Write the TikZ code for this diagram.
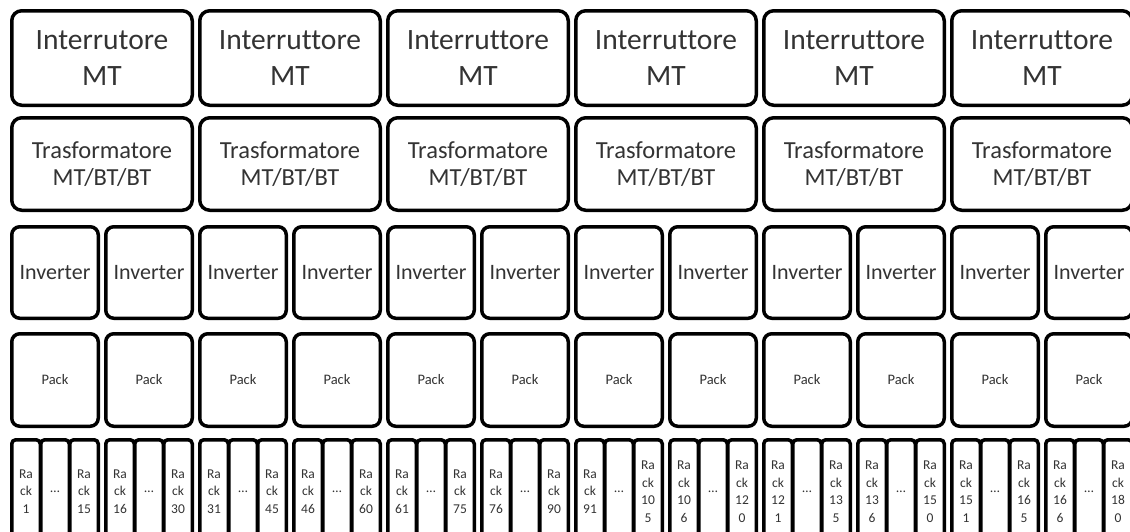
\documentclass[tikz,border=0pt]{standalone}
\usepackage{fontspec}
\setmainfont{Carlito}[Ligatures=NoCommon]
\tikzset{
 unit/.style={draw=black, line width=3.5pt, fill=white, text=black!80, align=center, inner sep=0pt, outer sep=0pt, anchor=north west},
 mtbox/.style={unit, rounded corners=10pt, minimum width=180.5pt, minimum height=94.5pt, font=\fontsize{29.5}{36}\selectfont},
 trafobox/.style={unit, rounded corners=10pt, minimum width=180.5pt, minimum height=92.5pt, font=\fontsize{24.5}{27}\selectfont},
 invbox/.style={unit, rounded corners=8pt, minimum width=86.5pt, minimum height=91.5pt, font=\fontsize{22}{26}\selectfont},
 packbox/.style={unit, rounded corners=8pt, minimum width=86.5pt, minimum height=92.5pt, font=\fontsize{14.5}{17}\selectfont},
 rackbox/.style={unit, rounded corners=4pt, minimum width=28.5pt, minimum height=103.5pt, font=\fontsize{13.5}{17.5}\selectfont},
}
\begin{document}
\begin{tikzpicture}[x=1pt,y=-1pt]
\useasboundingbox (0,0) rectangle (1130,531);
\clip (0,0) rectangle (1130,531);
\fill[white] (0,0) rectangle (1130,531);
% top rows
\foreach \c/\lab in {0/Interrutore,1/Interruttore,2/Interruttore,3/Interruttore,4/Interruttore,5/Interruttore}{
  \pgfmathsetmacro\xl{10+188*\c}
  \node[mtbox] (mt\c) at (\xl+1.75,10.75) {\lab\\MT};
  \node[trafobox] (tr\c) at (\xl+1.75,117.75) {Trasformatore\\MT/BT/BT};
  \foreach \h in {0,1}{
    \pgfmathsetmacro\xh{\xl+94*\h}
    \node[invbox] (inv\c-\h) at (\xh+1.75,226.75) {Inverter};
    \node[packbox] (pk\c-\h) at (\xh+1.75,333.75) {Pack};
  }
}
% rack row
\foreach \c/\ra/\rb/\rc/\rd in {0/1/15/16/30,1/31/45/46/60,2/61/75/76/90,3/91/{10\\5}/{10\\6}/{12\\0},4/{12\\1}/{13\\5}/{13\\6}/{15\\0},5/{15\\1}/{16\\5}/{16\\6}/{18\\0}}{
  \pgfmathsetmacro\xl{10+188*\c}
  \pgfmathsetmacro\xm{\xl+94}
  \node[rackbox] (rk\c-0-0) at (\xl+1.75,439.75) {Ra\\ck\\\ra};
  \node[rackbox] (rk\c-0-1) at (\xl+29+1.75,439.75) {…};
  \node[rackbox] (rk\c-0-2) at (\xl+58+1.75,439.75) {Ra\\ck\\\rb};
  \node[rackbox] (rk\c-1-0) at (\xm+1.75,439.75) {Ra\\ck\\\rc};
  \node[rackbox] (rk\c-1-1) at (\xm+29+1.75,439.75) {…};
  \node[rackbox] (rk\c-1-2) at (\xm+58+1.75,439.75) {Ra\\ck\\\rd};
}
\end{tikzpicture}
\end{document}
